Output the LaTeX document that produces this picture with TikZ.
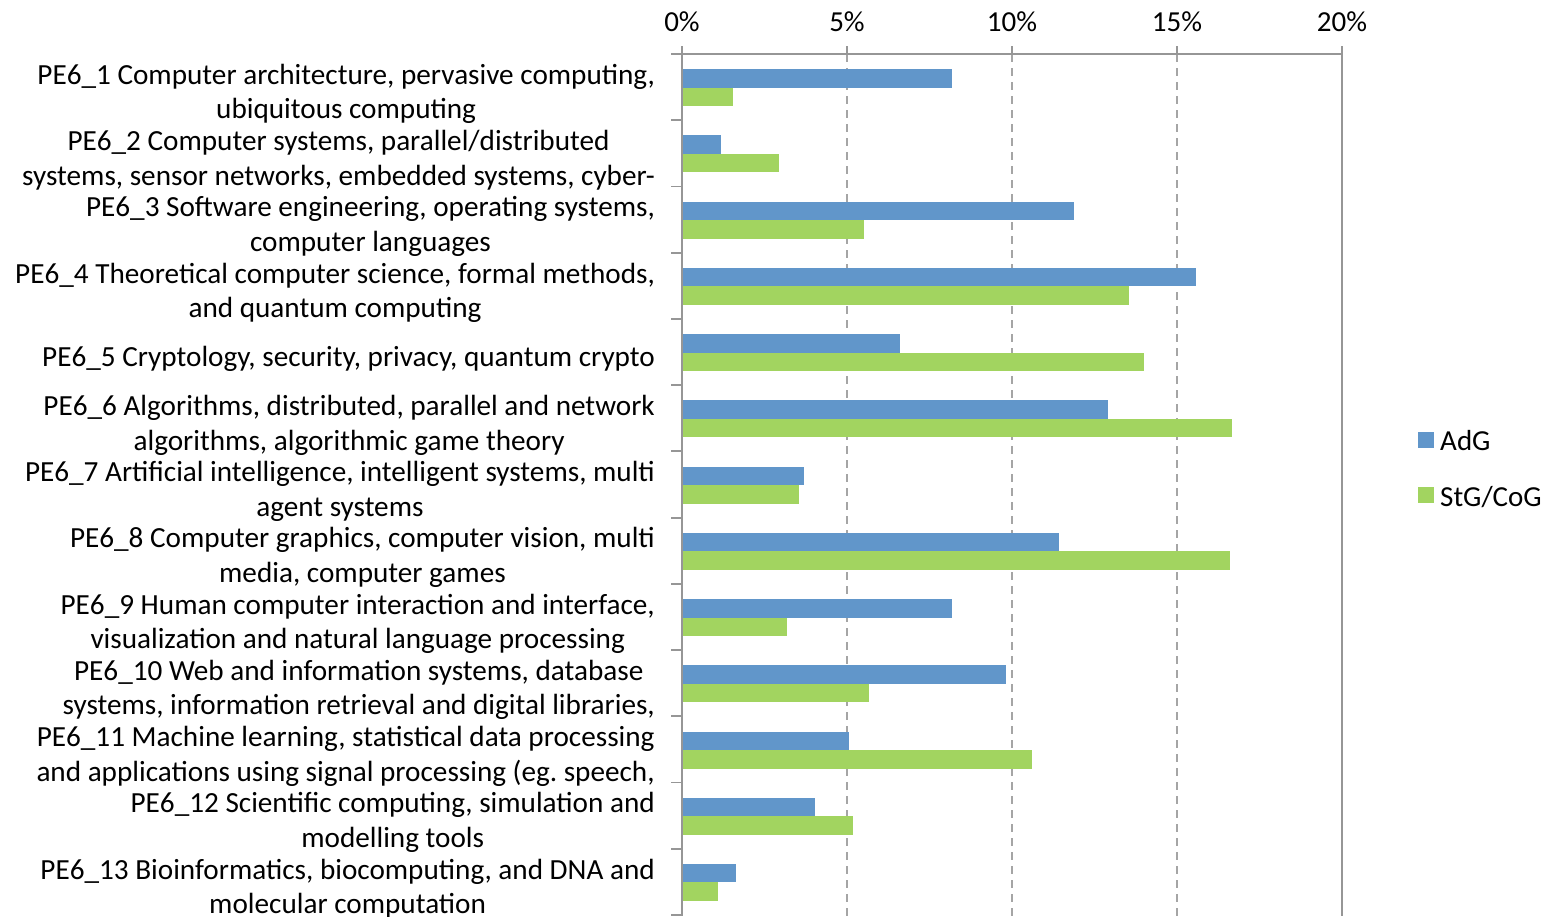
\documentclass[tikz,border=0pt]{standalone}
\usepackage{fontspec}
\setmainfont{Carlito}
\definecolor{adg}{RGB}{97,150,202}
\definecolor{stg}{RGB}{162,212,96}
\definecolor{axisgray}{RGB}{150,150,150}
\definecolor{gridgray}{RGB}{165,165,165}
\begin{document}
\begin{tikzpicture}[x=1pt,y=-1pt,
  lbl/.style={anchor=east,align=center,inner sep=0pt,font=\fontsize{29.2}{34.5}\selectfont},
  ticklbl/.style={inner sep=0pt,font=\fontsize{29}{32}\selectfont},
  barA/.style={fill=adg,draw=none,inner sep=0pt,anchor=north west,minimum height=18.5pt},
  barG/.style={fill=stg,draw=none,inner sep=0pt,anchor=north west,minimum height=18.5pt},
  axisline/.style={draw=axisgray,line width=1.8pt},
  gridline/.style={draw=gridgray,line width=1.6pt,dash pattern=on 8pt off 6pt},
  legbox/.style={inner sep=0pt,minimum width=16pt,minimum height=16pt}]
\useasboundingbox (0,0) rectangle (1550,916);
\begin{scope}
\clip (0,0) rectangle (1550,916);
% gridlines
\foreach \g in {1,2,3}{
  \draw[gridline] (682+165*\g,54) -- (682+165*\g,916);
  \draw[axisline] (682+165*\g,46) -- (682+165*\g,54);
}
% bars
\foreach \i/\a/\s/\t in {
 1/8.18/1.55/{PE6\_1 Computer architecture, pervasive computing,\\ubiquitous computing},
 2/1.18/2.94/{PE6\_2 Computer systems, parallel/distributed\\systems, sensor networks, embedded systems, cyber-},
 3/11.88/5.52/{PE6\_3 Software engineering, operating systems,\\computer languages},
 4/15.58/13.55/{PE6\_4 Theoretical computer science, formal methods,\\and quantum computing},
 5/6.6/14.0/{PE6\_5 Cryptology, security, privacy, quantum crypto},
 6/12.9/16.67/{PE6\_6 Algorithms, distributed, parallel and network\\algorithms, algorithmic game theory},
 7/3.7/3.55/{PE6\_7 Artificial intelligence, intelligent systems, multi\\agent systems},
 8/11.42/16.6/{PE6\_8 Computer graphics, computer vision, multi\\media, computer games},
 9/8.18/3.18/{PE6\_9 Human computer interaction and interface,\\visualization and natural language processing},
 10/9.82/5.67/{PE6\_10 Web and information systems, database\\systems, information retrieval and digital libraries,},
 11/5.06/10.6/{PE6\_11 Machine learning, statistical data processing\\and applications using signal processing (eg.\ speech,},
 12/4.03/5.18/{PE6\_12 Scientific computing, simulation and\\modelling tools},
 13/1.64/1.09/{PE6\_13 Bioinformatics, biocomputing, and DNA and\\molecular computation}}{
  \pgfmathsetmacro{\top}{54+(\i-1)*66.23}
  \node[barA,minimum width=\a*33pt] (a\i) at (682,\top+15) {};
  \node[barG,minimum width=\s*33pt] (s\i) at (682,\top+33.5) {};
  \node[lbl] (l\i) at (655,\top+40) {\t};
  \draw[axisline] (671,\top) -- (682,\top);
}
\draw[axisline] (671,915) -- (682,915);
% frame
\draw[axisline] (682,46) -- (682,916);
\draw[axisline] (682,54) -- (1342,54);
\draw[axisline] (1342,46) -- (1342,916);
\end{scope}
% tick labels
\foreach \v in {0,5,10,15,20}{
  \node[ticklbl] (t\v) at (682+33*\v,22) {\v\%};
}
% legend
\node[legbox,fill=adg] (ka) at (1426,439.5) {};
\node[ticklbl,anchor=west] (la) at (1440,441) {AdG};
\node[legbox,fill=stg] (kg) at (1426,495) {};
\node[ticklbl,anchor=west] (lg) at (1440,497) {StG/CoG};
\end{tikzpicture}
\end{document}
